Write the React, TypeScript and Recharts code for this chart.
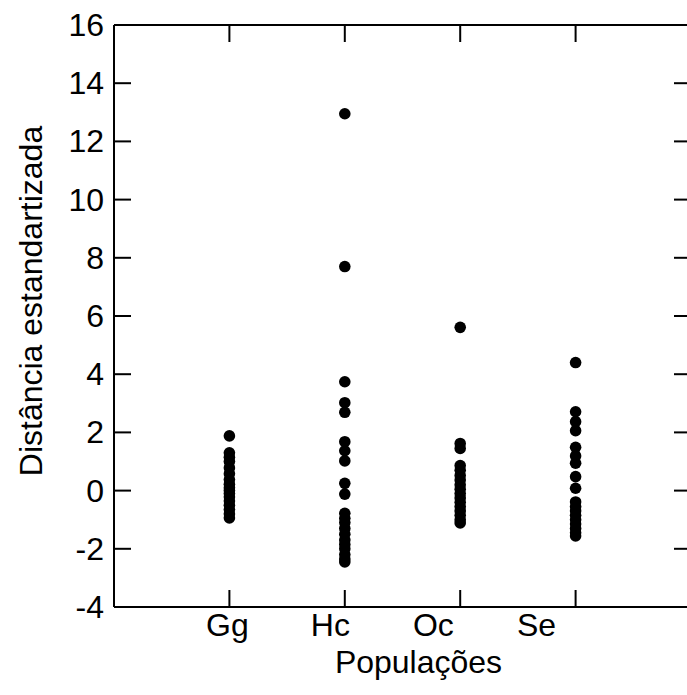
import { ScatterChart, Scatter, XAxis, YAxis } from "recharts"

const populations = ["Gg", "Hc", "Oc", "Se"]

const gg = [1.88, 1.3, 1.15, 1.0, 0.78, 0.58, 0.38, 0.22, 0.1, 0, -0.1, -0.22, -0.36, -0.5, -0.65, -0.8, -0.94]
const hc = [12.95, 7.7, 3.74, 3.02, 2.69, 1.68, 1.37, 1.02, 0.25, -0.12, -0.78, -0.95, -1.1, -1.3, -1.5, -1.7, -1.85, -2.0, -2.2, -2.35, -2.45]
const oc = [5.61, 1.62, 1.45, 0.86, 0.7, 0.52, 0.36, 0.2, 0.05, -0.1, -0.25, -0.4, -0.55, -0.7, -0.85, -1.0, -1.11]
const se = [4.4, 2.71, 2.37, 2.06, 1.49, 1.19, 0.94, 0.48, 0.08, -0.39, -0.55, -0.7, -0.85, -1.0, -1.15, -1.3, -1.45, -1.56]

const yTicks = [-4, -2, 0, 2, 4, 6, 8, 10, 12, 14, 16]
const xTicks = [1, 2, 3, 4]

const points = [gg, hc, oc, se].flatMap((vals, i) => vals.map((v) => ({ x: i + 1, y: v })))

const FONT = "'Liberation Sans', Arial, sans-serif"
const FS = 32
const TICK = 17

const LeftTick = (props: any) => {
  const { x, y, payload } = props
  return (
    <g>
      <line x1={x} y1={y} x2={x + TICK} y2={y} stroke="#000" strokeWidth={2} />
      <text x={x - 10} y={y} textAnchor="end" dominantBaseline="central" fontSize={FS} fontFamily={FONT} fill="#000">
        {payload.value}
      </text>
    </g>
  )
}

const RightTick = (props: any) => {
  const { x, y } = props
  return <line x1={x} y1={y} x2={x - TICK} y2={y} stroke="#000" strokeWidth={2} />
}

const BottomLineTick = (props: any) => {
  const { x, y } = props
  return <line x1={x} y1={y} x2={x} y2={y - TICK} stroke="#000" strokeWidth={2} />
}

const BottomLabelTick = (props: any) => {
  const { x, y, payload } = props
  return (
    <text x={x} y={y + 5} textAnchor="middle" dominantBaseline="hanging" fontSize={FS} fontFamily={FONT} fill="#000">
      {populations[payload.value - 1]}
    </text>
  )
}

const TopTick = (props: any) => {
  const { x, y } = props
  return <line x1={x} y1={y} x2={x} y2={y + TICK} stroke="#000" strokeWidth={2} />
}

const XTitle = (props: any) => {
  const { viewBox } = props
  const cx = viewBox.x + viewBox.width / 2 + 16
  const cy = viewBox.y + viewBox.height - 22
  return (
    <text x={cx} y={cy} textAnchor="middle" fontSize={FS} fontFamily={FONT} fill="#000">
      Populações
    </text>
  )
}

const YTitle = (props: any) => {
  const { viewBox } = props
  const cx = viewBox.x + 31
  const cy = viewBox.y + viewBox.height / 2 - 15
  return (
    <text x={cx} y={cy} transform={`rotate(-90, ${cx}, ${cy})`} textAnchor="middle" dominantBaseline="central" fontSize={FS} fontFamily={FONT} fill="#000">
      Distância estandartizada
    </text>
  )
}

const Dot = (props: any) => <circle cx={props.cx} cy={props.cy} r={5.8} fill="#000" />
const NoDot = () => <g />

export default function App() {
  return (
    <div style={{ position: "fixed", left: 0, top: 0, width: 687, height: 695, overflow: "hidden", background: "#fff" }}>
      <ScatterChart width={700} height={695} margin={{ top: 24, right: 8, bottom: 0, left: 0 }}>
        <XAxis
          xAxisId="b"
          dataKey="x"
          type="number"
          domain={[0, 5]}
          ticks={xTicks}
          height={1}
          tickSize={0}
          tickMargin={0}
          tickLine={false}
          axisLine={{ stroke: "#000", strokeWidth: 2 }}
          tick={<BottomLineTick />}
        />
        <XAxis
          xAxisId="lbl"
          dataKey="x"
          type="number"
          domain={[-0.1, 5.5]}
          ticks={xTicks}
          height={87}
          tickSize={0}
          tickMargin={0}
          tickLine={false}
          axisLine={false}
          tick={<BottomLabelTick />}
          label={<XTitle />}
        />
        <XAxis
          xAxisId="t"
          dataKey="x"
          orientation="top"
          type="number"
          domain={[0, 5]}
          ticks={xTicks}
          height={1}
          tickSize={0}
          tickMargin={0}
          tickLine={false}
          axisLine={{ stroke: "#000", strokeWidth: 2 }}
          tick={<TopTick />}
        />
        <YAxis
          yAxisId="l"
          dataKey="y"
          type="number"
          domain={[-4, 16]}
          ticks={yTicks}
          width={114}
          tickSize={0}
          tickMargin={0}
          tickLine={false}
          axisLine={{ stroke: "#000", strokeWidth: 2 }}
          tick={<LeftTick />}
          label={<YTitle />}
        />
        <YAxis
          yAxisId="r"
          dataKey="y"
          orientation="right"
          type="number"
          domain={[-4, 16]}
          ticks={yTicks}
          width={1}
          tickSize={0}
          tickMargin={0}
          tickLine={false}
          axisLine={{ stroke: "#000", strokeWidth: 2 }}
          tick={<RightTick />}
        />
        <Scatter xAxisId="b" yAxisId="l" data={points} shape={<Dot />} isAnimationActive={false} />
        <Scatter xAxisId="t" yAxisId="r" data={points} shape={<NoDot />} isAnimationActive={false} />
        <Scatter xAxisId="lbl" yAxisId="r" data={points} shape={<NoDot />} isAnimationActive={false} />
      </ScatterChart>
    </div>
  )
}
